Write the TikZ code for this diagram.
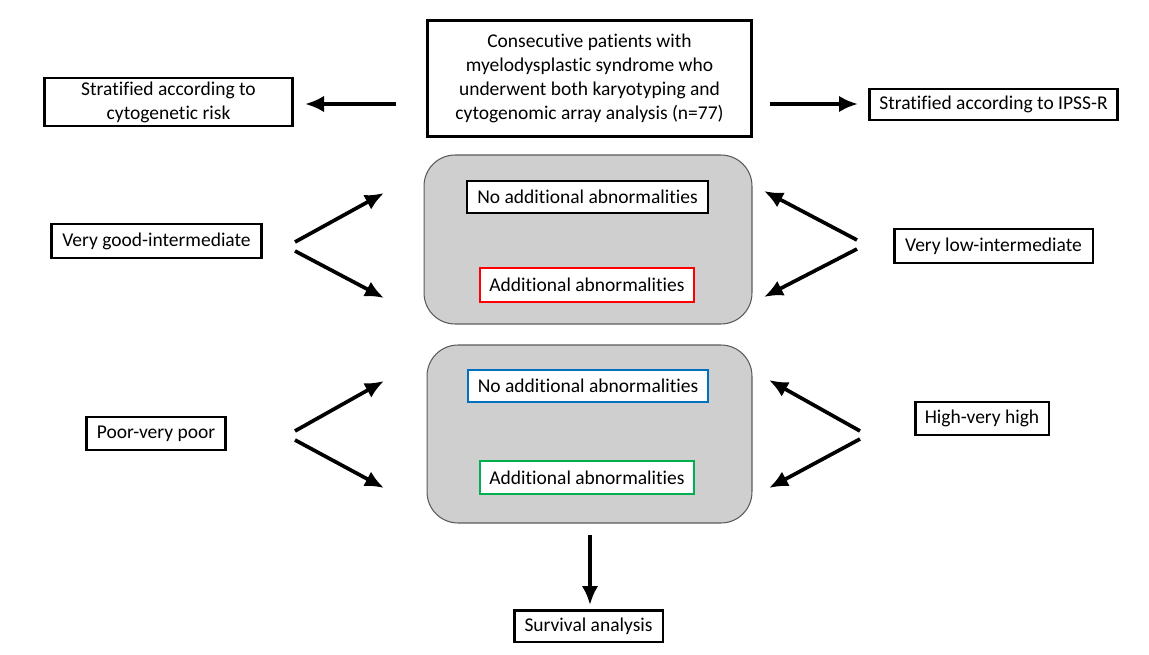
\documentclass[tikz,border=0pt]{standalone}
\usepackage{fontspec}
\setmainfont{Carlito}[Ligatures=NoCommon]
\usetikzlibrary{arrows.meta,positioning,calc}
\definecolor{panelgray}{RGB}{208,207,207}
\definecolor{panelline}{RGB}{90,90,90}
\definecolor{abnred}{RGB}{255,0,0}
\definecolor{abnblue}{RGB}{0,112,192}
\definecolor{abngreen}{RGB}{0,176,80}

\begin{document}
\begin{tikzpicture}[x=0.02cm,y=-0.02cm,
    box/.style={draw,line width=1.7pt,fill=white,inner sep=0pt,align=center},
    subbox/.style={draw,line width=1.6pt,fill=white,inner sep=0pt,minimum height=0.64cm},
    panel/.style={draw=panelline,line width=0.6pt,fill=panelgray,rounded corners=0.62cm,inner sep=0pt},
    arr/.style={-{Latex[length=3.8mm,width=3.3mm]},line width=2.1pt}]
        \tikzstyle{every node}=[font=\fontsize{11.1}{13.6}\selectfont]
        \useasboundingbox (0,0) rectangle (1149,655);

        %%% Top row
        \node[box,minimum width=6.5cm,minimum height=2.34cm] (cohort) at (589.5,78.5) {Consecutive patients with\\myelodysplastic syndrome who\\underwent both karyotyping and\\cytogenomic array analysis (n=77)};
        \node[box,minimum width=4.98cm,minimum height=0.96cm] (cytorisk) at (168.5,102) {Stratified according to\\cytogenetic risk};
        \node[box,minimum width=4.98cm,minimum height=0.62cm] (ipssr) at (993.5,104.5) {Stratified according to IPSS-R};

        \coordinate (cohortL) at (396,104);
        \coordinate (cohortR) at (770,104);
        \coordinate (cytoriskR) at (305,104);
        \coordinate (ipssrL) at (858,104);
        \draw[arr] (cohortL) -- (cytoriskR);
        \draw[arr] (cohortR) -- (ipssrL);

        %%% Panels
        \node[panel,minimum width=6.56cm,minimum height=3.38cm] (panelA) at (588,239.5) {};
        \node[panel,minimum width=6.5cm,minimum height=3.56cm] (panelB) at (589.5,434) {};

        \node[subbox,minimum width=4.82cm] (noabnA) at (587.5,197) {No additional abnormalities};
        \node[subbox,draw=abnred,minimum width=4.28cm,minimum height=0.68cm] (abnA) at (587,285) {Additional abnormalities};
        \node[subbox,draw=abnblue,minimum width=4.8cm] (noabnB) at (588,386) {No additional abnormalities};
        \node[subbox,draw=abngreen,minimum width=4.28cm,minimum height=0.66cm] (abnB) at (587,477.5) {Additional abnormalities};

        %%% Risk groups
        \node[box,minimum width=4.22cm,minimum height=0.68cm] (vgood) at (156.5,241) {Very good-intermediate};
        \node[box,minimum width=2.8cm,minimum height=0.66cm] (poor) at (156,433.5) {Poor-very poor};
        \node[box,minimum width=3.98cm,minimum height=0.68cm] (vlow) at (993.5,246) {Very low-intermediate};
        \node[box,minimum width=2.68cm,minimum height=0.66cm] (high) at (982,418.5) {High-very high};

        \coordinate (vgoodT) at (295,242);
        \coordinate (vgoodB) at (295,251);
        \coordinate (poorT) at (295,431);
        \coordinate (poorB) at (295,440);
        \coordinate (vlowT) at (857,240);
        \coordinate (vlowB) at (857,249);
        \coordinate (highT) at (860,431);
        \coordinate (highB) at (860,439);
        \coordinate (panelAlt) at (384,193);
        \coordinate (panelAlb) at (384,298);
        \coordinate (panelBlt) at (384,381);
        \coordinate (panelBlb) at (384,488);
        \coordinate (panelArt) at (764,191);
        \coordinate (panelArb) at (764,297);
        \coordinate (panelBrt) at (769,380);
        \coordinate (panelBrb) at (769,488);

        \draw[arr] (vgoodT) -- (panelAlt);
        \draw[arr] (vgoodB) -- (panelAlb);
        \draw[arr] (poorT) -- (panelBlt);
        \draw[arr] (poorB) -- (panelBlb);
        \draw[arr] (vlowT) -- (panelArt);
        \draw[arr] (vlowB) -- (panelArb);
        \draw[arr] (highT) -- (panelBrt);
        \draw[arr] (highB) -- (panelBrb);

        %%% Survival
        \node[box,minimum width=2.98cm,minimum height=0.64cm] (surv) at (588.5,626) {Survival analysis};
        \coordinate (panelBbot) at (590,535);
        \coordinate (survT) at (590,605);
        \draw[arr] (panelBbot) -- (survT);
\end{tikzpicture}
\end{document}
